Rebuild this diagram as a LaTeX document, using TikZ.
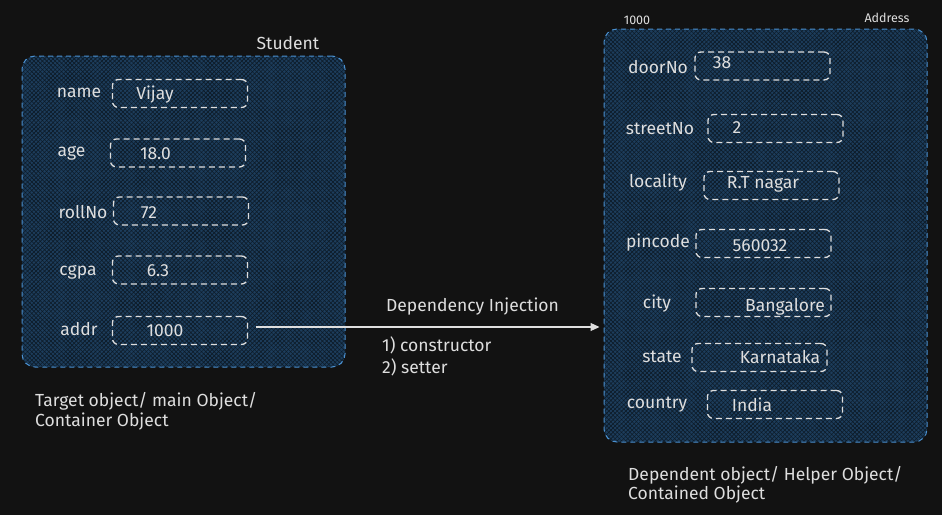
\documentclass[tikz,border=0pt]{standalone}
\usepackage{fontspec}
\setmainfont{Fira Sans}
\usetikzlibrary{patterns.meta,arrows.meta}
\definecolor{bg}{HTML}{121212}
\definecolor{cfill}{HTML}{1D3D5C}
\definecolor{cline}{HTML}{0D1B28}
\definecolor{cborder}{HTML}{4A90D0}
\definecolor{ink}{HTML}{DEDEDE}
\tikzset{
  container/.style={draw=cborder, line width=1pt, dash pattern=on 5pt off 4pt,
    rounded corners=13pt, inner sep=0pt,
    preaction={fill=cfill},
    preaction={pattern={Lines[angle=45,distance=3pt,line width=0.6pt]}, pattern color=cline},
    preaction={pattern={Lines[angle=-45,distance=3pt,line width=0.6pt]}, pattern color=cline}},
  valbox/.style={draw=ink, line width=1.3pt, dash pattern=on 6pt off 4pt,
    rounded corners=6pt, inner sep=0pt, minimum width=135pt, minimum height=28pt},
  txt/.style={text=ink, font=\fontsize{17.5}{21}\selectfont, inner sep=0pt},
  ltxt/.style={txt, anchor=west},
  small/.style={text=ink, font=\fontsize{12.5}{14}\selectfont, inner sep=0pt},
  conn/.style={draw=ink, line width=1.2pt, -{Triangle[length=9pt,width=8pt]}}
}
\begin{document}
\begin{tikzpicture}[x=1pt,y=-1pt]
\fill[bg] (0,0) rectangle (942,515);
\useasboundingbox (0,0) rectangle (942,515);

% containers
\node[container, minimum width=323pt, minimum height=311pt] (student) at (183.5,211.5) {};
\node[container, minimum width=323pt, minimum height=413pt] (address) at (765.5,235.5) {};

\node[txt] (studentlbl) at (288,43) {Student};
\node[small] (addrnum) at (637,20) {1000};
\node[small] (addresslbl) at (887,18) {Address};

% left fields
\node[valbox] (v1) at (180,93.5) {};
\node[valbox] (v2) at (178,153) {};
\node[valbox] (v3) at (181,211) {};
\node[valbox] (v4) at (180,270) {};
\node[valbox] (v5) at (180,330.5) {};

\node[txt] (l1) at (79,93) {name};
\node[txt] (l2) at (71.5,153) {age};
\node[txt] (l3) at (83,212) {rollNo};
\node[txt] (l4) at (78,272) {cgpa};
\node[txt] (l5) at (79,329) {addr};

\node[txt] (t1) at (155,95) {Vijay};
\node[txt] (t2) at (155.5,154) {18.0};
\node[txt] (t3) at (149,213) {72};
\node[txt] (t4) at (158,271) {6.3};
\node[txt] (t5) at (165,331) {1000};

% right fields
\node[valbox] (w1) at (762.5,66) {};
\node[valbox] (w2) at (775.5,128.5) {};
\node[valbox] (w3) at (771.5,185.5) {};
\node[valbox] (w4) at (763.5,243.5) {};
\node[valbox] (w5) at (763.5,302.5) {};
\node[valbox] (w6) at (759.5,357.5) {};
\node[valbox] (w7) at (775,404.5) {};

\node[txt] (m1) at (658,67) {doorNo};
\node[txt] (m2) at (660,129) {streetNo};
\node[txt] (m3) at (658,183) {locality};
\node[txt] (m4) at (658,243) {pincode};
\node[txt] (m5) at (657,304) {city};
\node[txt] (m6) at (662,357) {state};
\node[txt] (m7) at (657,405) {country};

\node[txt] (u1) at (722,63) {38};
\node[txt] (u2) at (737,128) {2};
\node[txt] (u3) at (763,184) {R.T nagar};
\node[txt] (u4) at (760,246) {560032};
\node[txt] (u5) at (785,307) {Bangalore};
\node[txt] (u6) at (780,357) {Karnataka};
\node[txt] (u7) at (752,405) {India};

% connector
\coordinate (arrs) at ([xshift=8pt,yshift=3.5pt]v5.east);
\coordinate (arre) at ([xshift=-4pt]arrs -| address.west);
\draw[conn] (arrs) -- (arre);

\node[txt] (di) at (472.5,307) {Dependency Injection};
\node[ltxt] (c1) at (382,345) {1) constructor};
\node[ltxt] (c2) at (382,367) {2) setter};

\node[ltxt] (b1) at (35,401) {Target object/ main Object/};
\node[ltxt] (b2) at (35,422) {Container Object};
\node[ltxt] (r1) at (628,475) {Dependent object/ Helper Object/};
\node[ltxt] (r2) at (628,495) {Contained Object};
\end{tikzpicture}
\end{document}
